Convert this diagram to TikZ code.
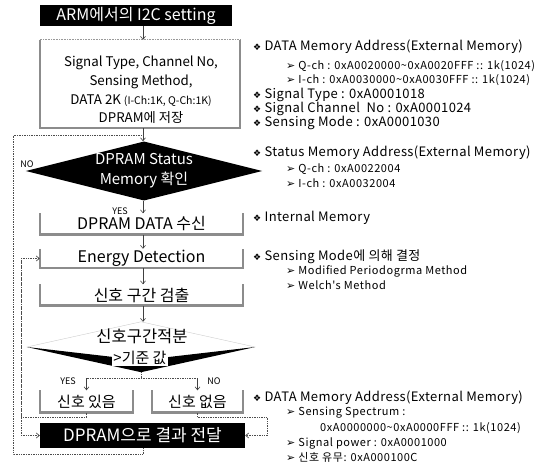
\documentclass[tikz,border=0pt]{standalone}
\usepackage{fontspec}
\setmainfont{Noto Sans CJK KR}
\newfontfamily\symfont{DejaVu Sans}
\newfontfamily\notefont[LetterSpace=3]{Noto Sans CJK KR}
\newfontfamily\subfont[LetterSpace=5]{Noto Sans CJK KR}
\usetikzlibrary{shapes.geometric,arrows.meta,calc}

\tikzset{
  blackbox/.style={fill=black, text=white, inner sep=0pt, font=\fontsize{16}{18}\selectfont},
  traybox/.style={inner sep=0pt, font=\fontsize{16}{18}\selectfont},
  trayline/.style={draw=black!45, line width=2.4pt},
  flow/.style={-{Straight Barb[length=3pt,width=5pt]}, black!75, line width=0.6pt},
  loopline/.style={black!70, densely dotted, line width=0.7pt},
  looparrow/.style={loopline, -{Straight Barb[length=3pt,width=5pt]}},
  tag/.style={inner sep=0pt, font=\fontsize{9}{10}\selectfont},
  note/.style={anchor=west, inner sep=0pt, font=\notefont\fontsize{13}{14}\selectfont},
  subnote/.style={anchor=west, inner sep=0pt, font=\subfont\fontsize{11}{12}\selectfont},
}
\newcommand{\dia}{{\symfont\fontsize{9}{10}\selectfont ❖}}
\newcommand{\tip}{{\symfont ➢}}

\begin{document}
\begin{tikzpicture}[x=1pt, y=-1pt]
  \useasboundingbox (0,0) rectangle (555,465);
  \coordinate (axis) at (143,0);
  \coordinate (outer) at (13,0);
  \coordinate (inner) at (21,0);

  \node[blackbox, minimum width=192pt, minimum height=21pt] (arm) at (136,15.5) {ARM에서의 I2C setting};
  \node[traybox, minimum width=200pt, minimum height=88pt] (store) at (140,84) {};
  \node[traybox, align=center, font=\fontsize{13.3}{18.7}\selectfont] (storetext) at (141,90) {Signal Type, Channel No,\\ Sensing Method,\\ DATA 2K {\fontsize{10.5}{12}\selectfont(I-Ch:1K, Q-Ch:1K)}\\ DPRAM에 저장};
  \node[diamond, aspect=4, fill=black, text=white, inner sep=0pt, minimum width=232pt, minimum height=58pt, align=center, font=\fontsize{15}{20}\selectfont] (check) at (144,171) {DPRAM Status\\ Memory 확인};
  \node[traybox, minimum width=203pt, minimum height=21pt] (recv) at (141.5,224) {DPRAM DATA 수신};
  \node[traybox, minimum width=203pt, minimum height=19pt] (energy) at (141.5,258.5) {Energy Detection};
  \node[traybox, minimum width=203pt, minimum height=21pt] (detect) at (141.5,295) {신호 구간 검출};
  \node[diamond, aspect=4.6, inner sep=0pt, minimum width=228pt, minimum height=50pt] (integ) at (141,347) {};
  \fill[black] (integ.west) -- (integ.south) -- (integ.east) -- ($(integ.south)+(0,-12)$) -- cycle;
  \draw[black!20, line width=0.4pt] (integ.west) -- (integ.north) -- (integ.east);
  \node[traybox, font=\fontsize{16.5}{18}\selectfont] (integtop) at (142,336) {신호구간적분};
  \node[traybox, fill=white, inner sep=1pt, font=\fontsize{15}{17}\selectfont] (integlow) at (140,358) {>기준 값};
  \node[traybox, minimum width=93pt, minimum height=22pt, font=\fontsize{15}{17}\selectfont] (has) at (86.5,401.5) {신호 있음};
  \node[traybox, minimum width=91pt, minimum height=22pt, font=\fontsize{15}{17}\selectfont] (hasnot) at (197.5,401.5) {신호 없음};
  \node[blackbox, minimum width=205pt, minimum height=25pt, font=\fontsize{17}{19}\selectfont] (result) at (142.5,435.5) {DPRAM으로 결과 전달};

  \draw[black!40, densely dotted, line width=0.6pt] (store.north west) -- (store.north east);
  \foreach \n in {store,recv,energy,detect,has,hasnot}
    \draw[trayline] (\n.north west) -- (\n.south west) -- (\n.south east) -- (\n.north east);

  \node[tag] (nocheck) at (27,164) {NO};
  \node[tag] (yescheck) at (120,211) {YES};
  \node[tag] (yesinteg) at (68,381) {YES};
  \node[tag] (nointeg) at (214,381) {NO};

  \coordinate (join) at ($(store.south -| axis)+(0,7)$);
  \coordinate (split) at ($(integ.south)+(0,6)$);

  \draw[flow] (arm.south -| axis) -- (store.north -| axis);
  \draw[flow] (store.south -| axis) -- (check.north -| axis);
  \draw[flow] (check.south -| axis) -- (recv.north -| axis);
  \draw[flow] (recv.south -| axis) -- (energy.north -| axis);
  \draw[flow] (energy.south -| axis) -- (detect.north -| axis);
  \draw[flow] (detect.south -| axis) -- (integ.north -| axis);
  \draw[loopline] (integ.south) -- (split);
  \draw[loopline] (has.north |- split) -- (hasnot.north |- split);
  \draw[flow] (has.north |- split) -- (has.north);
  \draw[flow] (hasnot.north |- split) -- (hasnot.north);

  \draw[loopline] (result.south -| axis) -- ++(0,6) -| (outer |- join) -- (join);
  \draw[loopline] (has.south) -- ++(0,5) -| (inner |- energy.west) -- (inner |- result.west);
  \draw[looparrow] (inner |- energy.west) -- (energy.west);
  \draw[looparrow] (inner |- result.west) -- (result.west);
  \draw[looparrow] (hasnot.south) -- ++(0,5) -| ($(result.east)+(22,0)$) -- (result.east);

  \node[note] (datamem) at (253,47) {\dia\ DATA Memory Address(External Memory)};
  \node[subnote] (qch) at (286,66) {\tip\ Q-ch : 0xA0020000\textasciitilde 0xA0020FFF :: 1k(1024)};
  \node[subnote] (ich) at (286,80) {\tip\ I-ch : 0xA0030000\textasciitilde 0xA0030FFF :: 1k(1024)};
  \node[note] (sigtype) at (253,95) {\dia\ Signal Type : 0xA0001018};
  \node[note] (sigch) at (253,109) {\dia\ Signal Channel\ \ No : 0xA0001024};
  \node[note] (sensmode) at (253,123) {\dia\ Sensing Mode : 0xA0001030};
  \node[note] (statmem) at (253,153) {\dia\ Status Memory Address(External Memory)};
  \node[subnote] (statq) at (286,169) {\tip\ Q-ch : 0xA0022004};
  \node[subnote] (stati) at (286,183) {\tip\ I-ch : 0xA0032004};
  \node[note] (intmem) at (253,218) {\dia\ Internal Memory};
  \node[note] (decide) at (253,257) {\dia\ Sensing Mode에 의해 결정};
  \node[subnote] (modified) at (286,271) {\tip\ Modified Periodogrma Method};
  \node[subnote] (welch) at (286,285) {\tip\ Welch's Method};
  \node[note] (outmem) at (253,398) {\dia\ DATA Memory Address(External Memory)};
  \node[subnote] (spectrum) at (286,413) {\tip\ Sensing Spectrum :};
  \node[subnote] (range) at (320,428) {0xA0000000\textasciitilde 0xA0000FFF :: 1k(1024)};
  \node[subnote] (power) at (286,443) {\tip\ Signal power : 0xA0001000};
  \node[subnote] (flag) at (286,457) {\tip\ 신호 유무: 0xA000100C};
\end{tikzpicture}
\end{document}
